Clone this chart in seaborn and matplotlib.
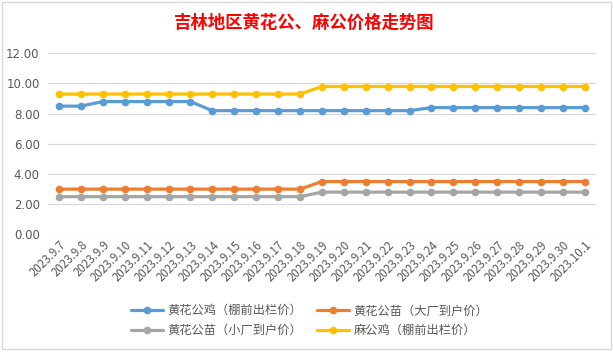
import matplotlib
matplotlib.use("Agg")
import matplotlib.pyplot as plt
import seaborn as sns
import pandas as pd
from matplotlib.ticker import FormatStrFormatter
from matplotlib.patches import Rectangle

dates = ["2023.9.7", "2023.9.8", "2023.9.9", "2023.9.10", "2023.9.11", "2023.9.12",
         "2023.9.13", "2023.9.14", "2023.9.15", "2023.9.16", "2023.9.17", "2023.9.18",
         "2023.9.19", "2023.9.20", "2023.9.21", "2023.9.22", "2023.9.23", "2023.9.24",
         "2023.9.25", "2023.9.26", "2023.9.27", "2023.9.28", "2023.9.29", "2023.9.30",
         "2023.10.1"]
huang_ji = [8.5, 8.5, 8.8, 8.8, 8.8, 8.8, 8.8, 8.2, 8.2, 8.2, 8.2, 8.2, 8.2, 8.2, 8.2,
            8.2, 8.2, 8.4, 8.4, 8.4, 8.4, 8.4, 8.4, 8.4, 8.4]
huang_miao_big = [3.0] * 12 + [3.5] * 13
huang_miao_small = [2.5] * 12 + [2.8] * 13
ma_ji = [9.3] * 12 + [9.8] * 13

names = ["黄花公鸡（棚前出栏价）", "黄花公苗（大厂到户价）", "黄花公苗（小厂到户价）", "麻公鸡（棚前出栏价）"]
series = [huang_ji, huang_miao_big, huang_miao_small, ma_ji]
colors = ["#5B9BD5", "#ED7D31", "#A5A5A5", "#FFC000"]

sns.set_theme(style="white")
plt.rcParams["font.family"] = ["Noto Sans CJK SC", "DejaVu Sans"]

fig = plt.figure(figsize=(6.13, 3.53), dpi=100)
ax = fig.add_axes([0.0783, 0.336, 0.8937, 0.513])

for name, vals, c in zip(names, series, colors):
    df = pd.DataFrame({"date": dates, "price": vals})
    sns.lineplot(data=df, x="date", y="price", ax=ax, color=c, linewidth=2.3,
                 marker="o", markersize=5.5, markeredgewidth=0, sort=False,
                 label=name)

ax.set_xlim(-0.5, len(dates) - 0.5)
ax.set_ylim(0, 12)
ax.set_yticks([0, 2, 4, 6, 8, 10, 12])
ax.yaxis.set_major_formatter(FormatStrFormatter("%.2f"))
ax.grid(axis="y", color="#D9D9D9", linewidth=0.9)
ax.set_axisbelow(True)
for s in ax.spines.values():
    s.set_visible(False)
ax.set_xlabel("")
ax.set_ylabel("")
ax.tick_params(axis="y", length=0, labelsize=8.5, colors="#595959", pad=6)
ax.tick_params(axis="x", length=0, labelsize=8.3, colors="#595959", pad=3)
for lbl in ax.get_xticklabels():
    lbl.set_rotation(45)
    lbl.set_ha("right")
    lbl.set_rotation_mode("anchor")
for lbl in ax.get_yticklabels():
    lbl.set_family("DejaVu Sans")

handles, labels = ax.get_legend_handles_labels()
order = [0, 2, 1, 3]
ax.legend([handles[i] for i in order], [labels[i] for i in order],
          loc="center", ncol=2, frameon=False, fontsize=8.8, labelcolor="#595959",
          handlelength=2.6, columnspacing=1.2, handletextpad=0.4, labelspacing=0.55)
leg = ax.get_legend()
leg.set_bbox_to_anchor((0.505, 0.092), transform=fig.transFigure)

fig.text(0.497, 0.935, "吉林地区黄花公、麻公价格走势图", color="#FF0000",
         fontsize=12.5, fontweight="bold", ha="center", va="center",
         family=["Noto Sans CJK SC", "DejaVu Sans"])

fig.patches.append(Rectangle((0.003, 0.01), 0.994, 0.985, transform=fig.transFigure,
                             fill=False, edgecolor="#D9D9D9", linewidth=1.0))

fig.savefig("out.png", dpi=100)
